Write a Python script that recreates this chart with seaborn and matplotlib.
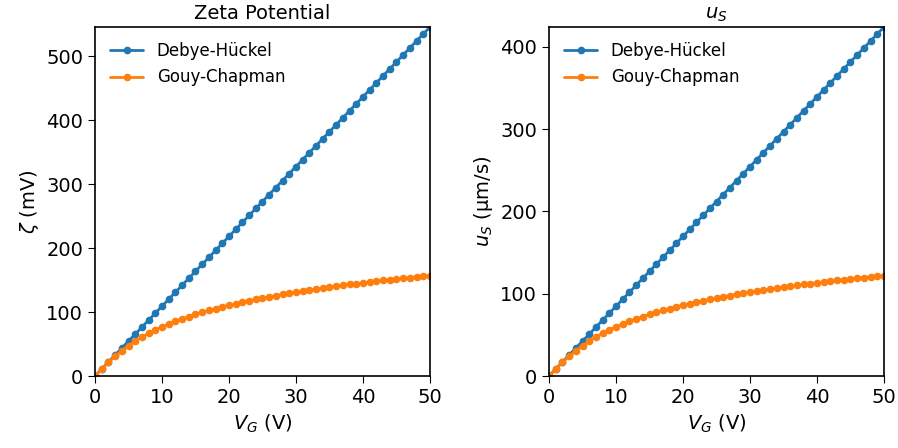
import pandas as pd
import numpy as np
import matplotlib.pyplot as plt
import seaborn as sns
from matplotlib.ticker import MultipleLocator

# gate voltage (V)
vg = [0, 1, 2, 3, 4, 5, 6, 7, 8, 9, 10, 11, 12, 13, 14, 15, 16, 17, 18, 19, 20,
      21, 22, 23, 24, 25, 26, 27, 28, 29, 30, 31, 32, 33, 34, 35, 36, 37, 38, 39, 40,
      41, 42, 43, 44, 45, 46, 47, 48, 49, 50]

# zeta potential (mV)
zeta_dh = [0, 10.92, 21.84, 32.76, 43.68, 54.6, 65.52, 76.44, 87.36, 98.28, 109.2,
           120.12, 131.04, 141.96, 152.88, 163.8, 174.72, 185.64, 196.56, 207.48, 218.4,
           229.32, 240.24, 251.16, 262.08, 273.0, 283.92, 294.84, 305.76, 316.68, 327.6,
           338.52, 349.44, 360.36, 371.28, 382.2, 393.12, 404.04, 414.96, 425.88, 436.8,
           447.72, 458.64, 469.56, 480.48, 491.4, 502.32, 513.24, 524.16, 535.08, 546.0]
zeta_gc = [0, 10.84, 21.23, 30.87, 39.63, 47.53, 54.64, 61.04, 66.85, 72.15, 77.0,
           81.46, 85.6, 89.45, 93.05, 96.42, 99.6, 102.59, 105.43, 108.12, 110.68,
           113.13, 115.46, 117.7, 119.85, 121.91, 123.89, 125.8, 127.64, 129.42, 131.14,
           132.81, 134.42, 135.99, 137.51, 138.98, 140.42, 141.81, 143.17, 144.5, 145.79,
           147.05, 148.28, 149.49, 150.66, 151.81, 152.93, 154.03, 155.11, 156.16, 157.2]

# slip velocity (um/s)
us_dh = [0, 8.48, 16.96, 25.44, 33.92, 42.4, 50.88, 59.36, 67.84, 76.32, 84.8,
         93.28, 101.76, 110.24, 118.72, 127.2, 135.68, 144.16, 152.64, 161.12, 169.6,
         178.08, 186.56, 195.04, 203.52, 212.0, 220.48, 228.96, 237.44, 245.92, 254.4,
         262.88, 271.36, 279.84, 288.32, 296.8, 305.28, 313.76, 322.24, 330.72, 339.2,
         347.68, 356.16, 364.64, 373.12, 381.6, 390.08, 398.56, 407.04, 415.52, 424.0]
us_gc = [0, 8.42, 16.49, 23.97, 30.78, 36.91, 42.43, 47.4, 51.92, 56.03, 59.8,
         63.26, 66.48, 69.47, 72.26, 74.88, 77.35, 79.67, 81.88, 83.97, 85.95,
         87.86, 89.67, 91.41, 93.08, 94.68, 96.21, 97.7, 99.13, 100.51, 101.84,
         103.14, 104.39, 105.61, 106.79, 107.93, 109.05, 110.13, 111.19, 112.22, 113.22,
         114.2, 115.15, 116.09, 117.0, 117.89, 118.77, 119.62, 120.46, 121.27, 122.08]

models = ["Debye-Hückel", "Gouy-Chapman"]

zeta_df = pd.DataFrame({
    "vg": vg + vg,
    "val": zeta_dh + zeta_gc,
    "model": [models[0]] * len(vg) + [models[1]] * len(vg),
})
us_df = pd.DataFrame({
    "vg": vg + vg,
    "val": us_dh + us_gc,
    "model": [models[0]] * len(vg) + [models[1]] * len(vg),
})

sns.set_style("white")
plt.rcParams['font.family'] = ['DejaVu Sans']
plt.rcParams.update({
    "text.color": "black",
    "axes.labelcolor": "black",
    "xtick.color": "black",
    "ytick.color": "black",
})

fig = plt.figure(figsize=(8.98, 4.48), dpi=100)
ax1 = fig.add_axes([0.1058, 0.1607, 0.373, 0.779])
ax2 = fig.add_axes([0.6114, 0.1607, 0.373, 0.779])

palette = ["#1f77b4", "#ff7f0e"]

for ax, df, ylab, title in [
    (ax1, zeta_df, r"$\zeta$ (mV)", "Zeta Potential"),
    (ax2, us_df, r"$u_S$ ($\mathrm{\mu}$m/s)", r"$u_S$"),
]:
    sns.lineplot(data=df, x="vg", y="val", hue="model", palette=palette,
                 marker="o", markersize=5.5, markeredgewidth=0, linewidth=2,
                 ax=ax)
    ax.set_xlim(0, 50)
    ax.set_ylim(0, df["val"].max())
    ax.yaxis.set_major_locator(MultipleLocator(100))
    ax.set_xlabel(r"$V_G$ (V)", fontsize=14)
    ax.set_ylabel(ylab, fontsize=14)
    ax.set_title(title, fontsize=14)
    ax.tick_params(axis="both", labelsize=14, direction="out", length=5,
                   left=True, bottom=True)
    for s in ax.spines.values():
        s.set_color("black")
        s.set_linewidth(1.2)
    ax.legend(title=None, frameon=False, fontsize=12, loc="upper left")

plt.savefig("out.png", dpi=100)
